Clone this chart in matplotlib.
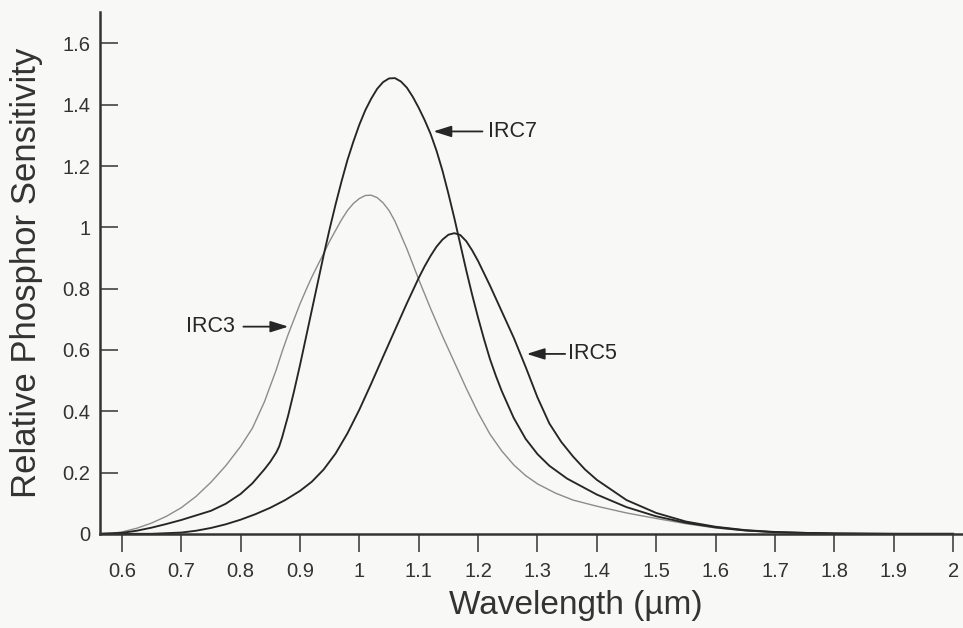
import matplotlib
matplotlib.use('Agg')
import matplotlib.pyplot as plt

# (wavelength in um, relative sensitivity)
irc3_wl = [0.56, 0.58, 0.60, 0.625, 0.65, 0.675, 0.70, 0.725, 0.75, 0.775, 0.80, 0.82,
           0.84, 0.86, 0.87, 0.88, 0.89, 0.90, 0.91, 0.92, 0.93, 0.94, 0.95, 0.96, 0.97,
           0.98, 0.99, 1.00, 1.01, 1.02, 1.03, 1.04, 1.05, 1.06, 1.07, 1.08, 1.09,
           1.10, 1.12, 1.14, 1.16, 1.18, 1.20, 1.22, 1.24, 1.26, 1.28, 1.30, 1.33,
           1.36, 1.40, 1.45, 1.50, 1.55, 1.60, 1.65, 1.70, 1.75, 1.80, 1.90, 2.00]
irc3_val = [0.0, 0.001, 0.006, 0.018, 0.035, 0.057, 0.085, 0.122, 0.168, 0.222, 0.285, 0.345,
            0.43, 0.535, 0.595, 0.65, 0.70, 0.75, 0.795, 0.838, 0.877, 0.915, 0.955, 0.99, 1.025,
            1.055, 1.078, 1.094, 1.104, 1.105, 1.097, 1.08, 1.055, 1.02, 0.975, 0.93, 0.88,
            0.83, 0.735, 0.645, 0.56, 0.475, 0.395, 0.325, 0.27, 0.225, 0.19, 0.163, 0.133,
            0.11, 0.09, 0.068, 0.05, 0.033, 0.019, 0.01, 0.005, 0.003, 0.001, 0.0, 0.0]

irc7_wl = [0.56, 0.60, 0.625, 0.65, 0.675, 0.70, 0.725, 0.75, 0.775, 0.80, 0.82, 0.84,
           0.85, 0.86, 0.865, 0.87, 0.88, 0.89, 0.90, 0.91, 0.92, 0.93, 0.94, 0.95,
           0.96, 0.97, 0.98, 0.99, 1.00, 1.01, 1.02, 1.03, 1.04, 1.05, 1.06, 1.07,
           1.08, 1.09, 1.10, 1.11, 1.12, 1.13, 1.14, 1.15, 1.16, 1.17, 1.18, 1.19,
           1.20, 1.21, 1.22, 1.23, 1.24, 1.26, 1.28, 1.30, 1.32, 1.35, 1.40, 1.45,
           1.50, 1.55, 1.60, 1.65, 1.70, 1.75, 1.80, 1.90, 2.00]
irc7_val = [0.0, 0.003, 0.01, 0.02, 0.032, 0.045, 0.06, 0.075, 0.098, 0.13, 0.165, 0.21,
            0.235, 0.265, 0.285, 0.315, 0.385, 0.465, 0.55, 0.64, 0.73, 0.82, 0.91, 0.995,
            1.075, 1.15, 1.22, 1.28, 1.335, 1.382, 1.42, 1.452, 1.474, 1.486, 1.487, 1.476,
            1.456, 1.426, 1.39, 1.35, 1.305, 1.25, 1.185, 1.11, 1.03, 0.945, 0.86, 0.78,
            0.705, 0.635, 0.57, 0.515, 0.465, 0.378, 0.31, 0.26, 0.222, 0.18, 0.128, 0.087,
            0.057, 0.036, 0.021, 0.011, 0.005, 0.003, 0.001, 0.0, 0.0]

irc5_wl = [0.56, 0.65, 0.70, 0.725, 0.75, 0.775, 0.80, 0.825, 0.85, 0.875, 0.90, 0.92,
           0.94, 0.96, 0.98, 1.00, 1.02, 1.04, 1.06, 1.08, 1.10, 1.11, 1.12, 1.13,
           1.14, 1.15, 1.16, 1.17, 1.18, 1.19, 1.20, 1.22, 1.24, 1.26, 1.28, 1.30,
           1.32, 1.34, 1.36, 1.38, 1.40, 1.45, 1.50, 1.55, 1.60, 1.65, 1.70, 1.75,
           1.80, 1.90, 2.00]
irc5_val = [0.0, 0.0, 0.004, 0.01, 0.019, 0.031, 0.046, 0.064, 0.085, 0.11, 0.14, 0.17,
            0.21, 0.262, 0.328, 0.405, 0.49, 0.578, 0.665, 0.752, 0.835, 0.873, 0.907, 0.937,
            0.96, 0.976, 0.981, 0.975, 0.955, 0.925, 0.89, 0.81, 0.725, 0.64, 0.545, 0.445,
            0.36, 0.30, 0.252, 0.21, 0.176, 0.11, 0.068, 0.04, 0.023, 0.012, 0.006, 0.003,
            0.001, 0.0, 0.0]

x_ticks = [0.6, 0.7, 0.8, 0.9, 1.0, 1.1, 1.2, 1.3, 1.4, 1.5, 1.6, 1.7, 1.8, 1.9, 2.0]
x_tick_labels = ['0.6', '0.7', '0.8', '0.9', '1', '1.1', '1.2', '1.3', '1.4',
                 '1.5', '1.6', '1.7', '1.8', '1.9', '2']
y_ticks = [0, 0.2, 0.4, 0.6, 0.8, 1.0, 1.2, 1.4, 1.6]
y_tick_labels = ['0', '0.2', '0.4', '0.6', '0.8', '1', '1.2', '1.4', '1.6']

plt.rcParams['font.family'] = ['Liberation Sans', 'DejaVu Sans']

bg = '#f8f8f6'
ink = '#262626'
fig = plt.figure(figsize=(9.63, 6.28), dpi=100, facecolor=bg)
ax = fig.add_axes([0.104, 0.150, 0.895, 0.831], facecolor=bg)

ax.plot(irc3_wl, irc3_val, color='#8c8c8c', lw=1.0)
ax.plot(irc7_wl, irc7_val, color=ink, lw=1.35)
ax.plot(irc5_wl, irc5_val, color=ink, lw=1.35)

ax.set_xlim(0.5635, 2.015)
ax.set_ylim(0, 1.703)

for s in ['top', 'right']:
    ax.spines[s].set_visible(False)
for s in ['left', 'bottom']:
    ax.spines[s].set_color('#333333')
    ax.spines[s].set_linewidth(1.8)

ax.set_xticks(x_ticks)
ax.set_xticklabels(x_tick_labels)
ax.set_yticks(y_ticks)
ax.set_yticklabels(y_tick_labels)
ax.tick_params(axis='x', direction='out', length=13, width=1.1, pad=7,
               labelsize=14.5, colors='#333333')
ax.tick_params(axis='y', direction='in', length=13, width=1.1, pad=7,
               labelsize=14.5, colors='#333333')

ax.set_xlabel('Wavelength (µm)', fontsize=24, color='#333333')
ax.xaxis.set_label_coords(0.552, -0.108)
ax.set_ylabel('Relative Phosphor Sensitivity', fontsize=25, color='#333333')
ax.yaxis.set_label_coords(-0.066, 0.5)

arrow = dict(arrowstyle='-|>,head_length=0.7,head_width=0.22', color=ink,
             lw=1.3, shrinkB=0)
ax.annotate('IRC7', xy=(1.1246, 1.313), xytext=(1.2167, 1.313), ha='left', va='center',
            fontsize=15.5, color=ink, arrowprops=dict(arrow, shrinkA=2))
ax.annotate('IRC5', xy=(1.2818, 0.587), xytext=(1.3513, 0.587), ha='left', va='center',
            fontsize=15.5, color=ink, arrowprops=dict(arrow, shrinkA=0))
ax.annotate('IRC3', xy=(0.8805, 0.676), xytext=(0.7907, 0.676), ha='right', va='center',
            fontsize=15.5, color=ink, arrowprops=dict(arrow, shrinkA=4))

fig.savefig('out.png', dpi=100, facecolor=bg)
